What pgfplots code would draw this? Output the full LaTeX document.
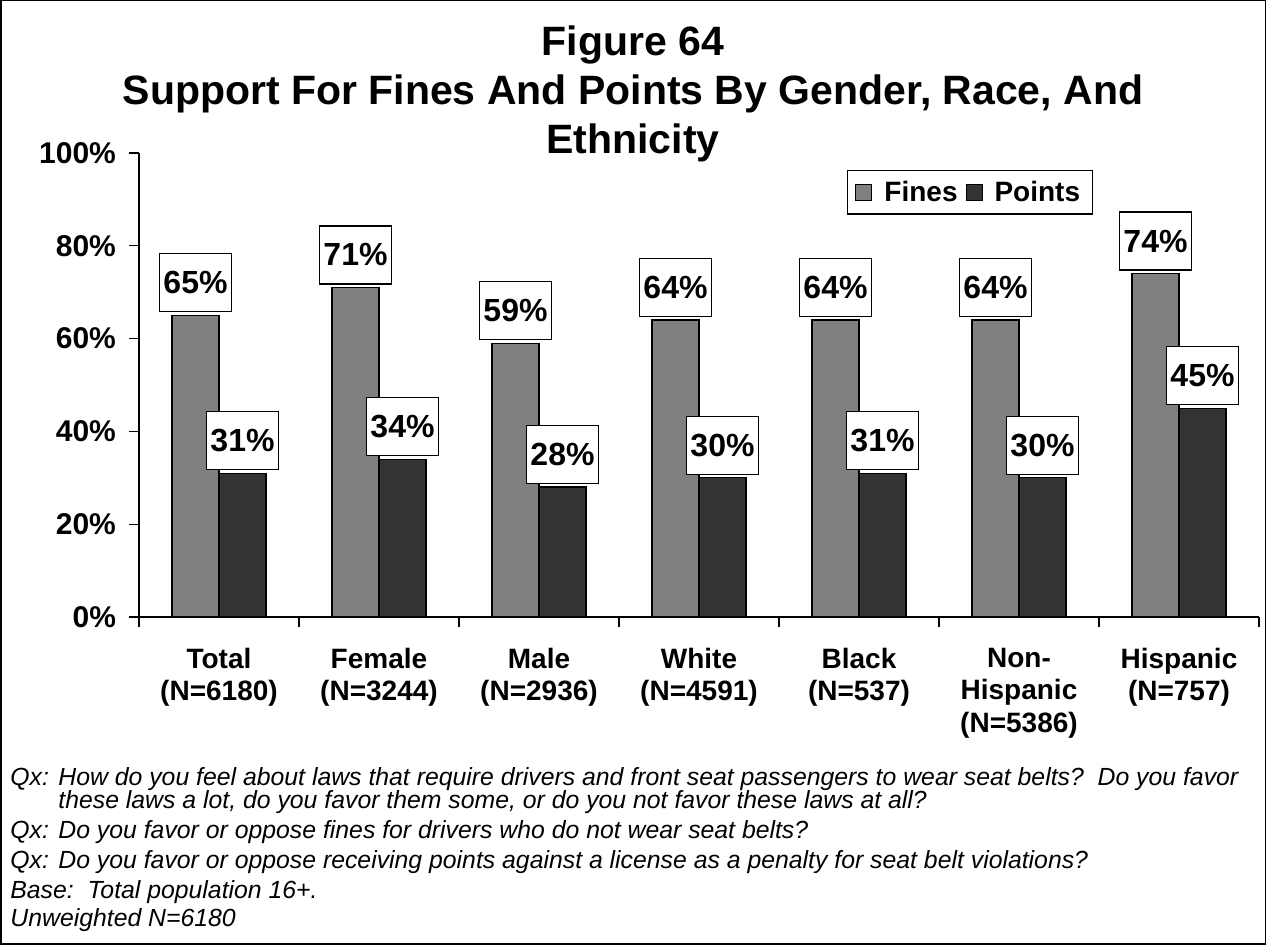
\documentclass[border=0pt]{standalone}
\usepackage{pgfplots}
\pgfplotsset{compat=1.18}
\usepackage{fontspec}
\setmainfont{Liberation Sans}
\definecolor{finescol}{HTML}{808080}
\definecolor{pointscol}{HTML}{333333}
\begin{document}
\begin{tikzpicture}
\draw[line width=0.75pt] (0.375pt,0.375pt) rectangle (632.625pt,472.125pt);
\node[align=center, font=\fontsize{20.5}{24.5}\selectfont\bfseries] at (316.5pt,425.5pt)
  {Figure 64\\Support For Fines And Points By Gender, Race, And\\Ethnicity};
\begin{axis}[
  at={(69.5pt,164pt)}, anchor=south west,
  scale only axis, width=560pt, height=232pt,
  ybar=0pt, bar width=23.5pt,
  xmin=-0.5, xmax=6.5, ymin=0, ymax=100,
  axis x line=bottom, axis y line=left,
  axis line style={-, line width=0.6pt},
  tick align=outside, major tick length=5pt, minor tick length=5pt,
  every tick/.style={line width=0.6pt, black},
  xtick={0,...,6},
  xticklabels={{Total\\(N=6180)},{Female\\(N=3244)},{Male\\(N=2936)},{White\\(N=4591)},{Black\\(N=537)},{Non-\\Hispanic\\(N=5386)},{Hispanic\\(N=757)}},
  major x tick style={draw=none},
  minor xtick={-0.5,0.5,...,6.5},
  xticklabel style={align=center, anchor=north, yshift=-7pt, font=\fontsize{14}{16.3}\selectfont\bfseries},
  ytick={0,20,...,100},
  yticklabels={0\%,20\%,40\%,60\%,80\%,100\%},
  yticklabel style={font=\fontsize{15}{15}\selectfont\bfseries, xshift=-3pt},
  nodes near coords={\pgfmathprintnumber[assume math mode=true]{\pgfplotspointmeta}\%},
  every node near coord/.append style={draw=black, fill=white, line width=0.6pt,
     minimum width=36pt, minimum height=29pt, inner sep=0pt, anchor=south, yshift=1.5pt,
     font=\fontsize{16}{16}\selectfont\bfseries, text=black},
  legend style={at={(0.632,0.963)}, anchor=north west, draw=black, line width=0.6pt,
     legend columns=2, font=\fontsize{14}{14}\selectfont\bfseries,
     inner xsep=4pt, inner ysep=3pt,
     /tikz/every odd column/.append style={column sep=4pt},
     /tikz/every even column/.append style={column sep=2pt}},
  legend image code/.code={\draw[#1, draw=black, line width=0.5pt] (0pt,-4pt) rectangle (8pt,4pt);},
]
\addplot[fill=finescol, draw=black, line width=0.6pt] coordinates {(0,65) (1,71) (2,59) (3,64) (4,64) (5,64) (6,74)};
\addplot[fill=pointscol, draw=black, line width=0.6pt] coordinates {(0,31) (1,34) (2,28) (3,30) (4,31) (5,30) (6,45)};
\legend{Fines,Points}
\end{axis}
\begin{scope}[every node/.style={anchor=base west, inner sep=0pt, font=\fontsize{12.4}{12.4}\selectfont\itshape}]
\node at (5pt,79.5pt) {Qx:};
\node at (29pt,79.5pt) {How do you feel about laws that require drivers and front seat passengers to wear seat belts?\ \ Do you favor};
\node at (29pt,68pt) {these laws a lot, do you favor them some, or do you not favor these laws at all?};
\node at (5pt,53pt) {Qx:};
\node at (29pt,53pt) {Do you favor or oppose fines for drivers who do not wear seat belts?};
\node at (5pt,38pt) {Qx:};
\node at (29pt,38pt) {Do you favor or oppose receiving points against a license as a penalty for seat belt violations?};
\node at (5pt,23pt) {Base:\ \ Total population 16+.};
\node at (5pt,9pt) {Unweighted N=6180};
\end{scope}
\end{tikzpicture}
\end{document}
